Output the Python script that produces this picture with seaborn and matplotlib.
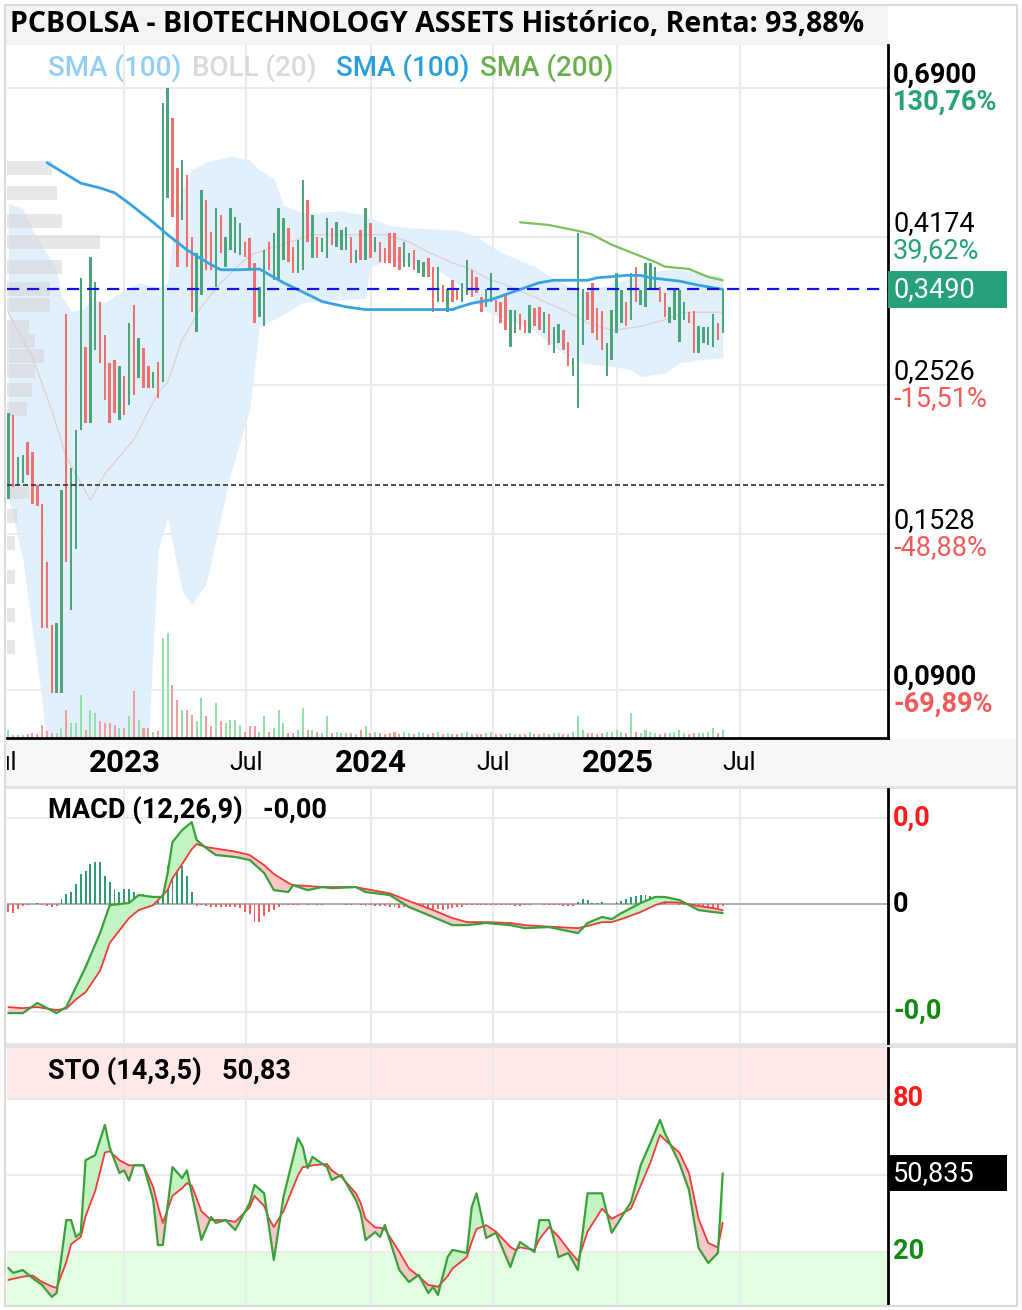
import numpy as np
import pandas as pd
import matplotlib
matplotlib.use("Agg")
import matplotlib.pyplot as plt
from matplotlib.patches import Rectangle
from matplotlib.ticker import NullLocator
import seaborn as sns

# ---------------- data ----------------
candle_open = [0.172, 0.228, 0.180, 0.181, 0.208, 0.201, 0.180, 0.169, 0.139, 0.112,
               0.089, 0.089, 0.321, 0.118, 0.145, 0.217, 0.287, 0.222, 0.284, 0.334,
               0.299, 0.272, 0.275, 0.224, 0.260, 0.236, 0.331, 0.259, 0.286, 0.269,
               0.250, 0.273, 0.255, 0.476, 0.623, 0.526, 0.442, 0.514, 0.417, 0.302,
               0.342, 0.472, 0.424, 0.352, 0.449, 0.377, 0.399, 0.395, 0.392, 0.410,
               0.416, 0.382, 0.318, 0.308, 0.410, 0.360, 0.360, 0.386, 0.430, 0.403,
               0.369, 0.373, 0.472, 0.388, 0.417, 0.396, 0.388, 0.430, 0.403, 0.399,
               0.399, 0.417, 0.382, 0.427, 0.386, 0.437, 0.396, 0.410, 0.402, 0.423,
               0.423, 0.403, 0.377, 0.377, 0.399, 0.369, 0.364, 0.388, 0.376, 0.334,
               0.354, 0.323, 0.360, 0.350, 0.335, 0.342, 0.373, 0.364, 0.340, 0.329,
               0.335, 0.337, 0.334, 0.342, 0.287, 0.301, 0.321, 0.315, 0.301, 0.328,
               0.329, 0.301, 0.321, 0.281, 0.291, 0.304, 0.292, 0.260, 0.234, 0.289,
               0.346, 0.357, 0.328, 0.324, 0.260, 0.275, 0.301, 0.312, 0.334, 0.315,
               0.376, 0.331, 0.329, 0.348, 0.350, 0.352, 0.345, 0.312, 0.315, 0.292,
               0.315, 0.323, 0.324, 0.281, 0.291, 0.289, 0.287, 0.312, 0.301]
candle_close = [0.230, 0.179, 0.198, 0.199, 0.186, 0.169, 0.168, 0.111, 0.111, 0.089,
                0.113, 0.177, 0.139, 0.191, 0.217, 0.363, 0.222, 0.390, 0.358, 0.272,
                0.240, 0.222, 0.230, 0.269, 0.228, 0.312, 0.244, 0.296, 0.250, 0.250,
                0.264, 0.242, 0.655, 0.690, 0.446, 0.376, 0.541, 0.377, 0.323, 0.395,
                0.489, 0.373, 0.373, 0.459, 0.395, 0.417, 0.459, 0.446, 0.437, 0.390,
                0.373, 0.312, 0.352, 0.399, 0.373, 0.423, 0.459, 0.445, 0.383, 0.369,
                0.413, 0.505, 0.410, 0.449, 0.388, 0.416, 0.445, 0.406, 0.438, 0.427,
                0.431, 0.382, 0.399, 0.386, 0.459, 0.388, 0.417, 0.383, 0.382, 0.382,
                0.377, 0.373, 0.410, 0.395, 0.373, 0.386, 0.383, 0.364, 0.323, 0.376,
                0.334, 0.350, 0.335, 0.337, 0.357, 0.386, 0.340, 0.345, 0.323, 0.350,
                0.369, 0.323, 0.312, 0.304, 0.326, 0.326, 0.304, 0.301, 0.331, 0.308,
                0.304, 0.323, 0.289, 0.307, 0.310, 0.284, 0.269, 0.277, 0.423, 0.350,
                0.315, 0.301, 0.294, 0.284, 0.291, 0.326, 0.369, 0.348, 0.308, 0.369,
                0.335, 0.348, 0.382, 0.382, 0.376, 0.334, 0.318, 0.329, 0.348, 0.348,
                0.335, 0.312, 0.281, 0.308, 0.307, 0.307, 0.321, 0.294, 0.349]
volume = [8, 3, 3, 3, 4, 5, 4, 13, 7, 5,
          5, 10, 28, 15, 15, 43, 8, 28, 25, 17,
          15, 15, 13, 10, 10, 22, 47, 18, 10, 10,
          6, 7, 100, 105, 53, 38, 28, 28, 23, 17,
          40, 22, 12, 35, 17, 15, 18, 18, 13, 6,
          12, 12, 6, 22, 6, 10, 28, 15, 5, 5,
          8, 30, 8, 8, 6, 5, 22, 5, 6, 5,
          5, 5, 4, 8, 12, 5, 6, 5, 4, 5,
          6, 4, 6, 5, 4, 6, 5, 4, 5, 6,
          4, 5, 4, 4, 5, 6, 4, 4, 4, 5,
          6, 4, 4, 4, 5, 4, 4, 4, 6, 4,
          4, 5, 4, 5, 5, 4, 4, 6, 22, 8,
          5, 5, 4, 5, 6, 6, 8, 6, 5, 25,
          6, 5, 8, 6, 5, 4, 5, 5, 6, 8,
          5, 4, 5, 5, 5, 6, 10, 5, 8]

# indicator samples: bar number -> value
sma100_idx = [8, 15, 19, 22, 25, 30, 33, 37, 41, 44, 48, 52, 57, 61, 65, 70, 74, 81, 92, 93,
              96, 100, 104, 110, 113, 120, 122, 128, 131, 133, 139, 143, 148]
sma100 = [0.536, 0.500, 0.492, 0.484, 0.467, 0.438, 0.420, 0.399, 0.383, 0.373,
          0.373, 0.374, 0.357, 0.346, 0.335, 0.329, 0.326, 0.326, 0.326, 0.328,
          0.333, 0.337, 0.345, 0.357, 0.360, 0.360, 0.363, 0.366, 0.366, 0.363,
          0.359, 0.354, 0.349]
sma200_idx = [106, 112, 119, 121, 125, 134, 136, 141, 145, 148]
sma200 = [0.438, 0.434, 0.424, 0.420, 0.406, 0.383, 0.377, 0.374, 0.364, 0.360]

boll_idx = [0, 3, 5, 7, 10, 11, 13, 15, 18, 20, 23, 27, 29, 31, 33, 34, 36, 38, 41, 46,
            50, 52, 55, 57, 61, 69, 74, 75, 79, 83, 89, 92, 95, 98, 102, 109, 114, 119, 125, 129,
            131, 136, 139, 143, 148]
boll_upper = [0.467, 0.459, 0.427, 0.405, 0.373, 0.342, 0.324, 0.326, 0.337, 0.334,
              0.345, 0.357, 0.354, 0.352, 0.357, 0.420, 0.489, 0.523, 0.537, 0.548,
              0.541, 0.523, 0.508, 0.464, 0.452, 0.455, 0.449, 0.445, 0.433, 0.430,
              0.428, 0.427, 0.423, 0.413, 0.396, 0.377, 0.359, 0.346, 0.355, 0.363,
              0.368, 0.373, 0.373, 0.369, 0.364]
boll_lower = [0.173, 0.140, 0.110, 0.087, 0.050, 0.050, 0.050, 0.050, 0.050, 0.050,
              0.050, 0.050, 0.075, 0.144, 0.162, 0.148, 0.126, 0.120, 0.129, 0.187,
              0.232, 0.308, 0.315, 0.321, 0.334, 0.337, 0.339, 0.377, 0.386, 0.382,
              0.373, 0.360, 0.348, 0.326, 0.318, 0.304, 0.284, 0.272, 0.269, 0.266,
              0.260, 0.263, 0.272, 0.275, 0.277]
boll_mid_idx = [0, 5, 9, 12, 17, 20, 26, 31, 33, 36, 40, 44, 50, 63, 78, 83, 86, 92, 96, 100,
                102, 109, 116, 120, 125, 131, 136, 140, 148]
boll_mid = [0.323, 0.277, 0.232, 0.198, 0.171, 0.187, 0.210, 0.246, 0.255, 0.294,
            0.329, 0.357, 0.392, 0.420, 0.420, 0.410, 0.399, 0.382, 0.373, 0.360,
            0.357, 0.340, 0.323, 0.312, 0.304, 0.308, 0.315, 0.323, 0.323]

profile_price = [0.526, 0.484, 0.440, 0.410, 0.377, 0.349, 0.331, 0.3075, 0.293, 0.279,
                 0.265, 0.248, 0.233, 0.176, 0.162, 0.148, 0.132, 0.116, 0.104]
profile_vol = [45, 50, 55, 93, 55, 43, 43, 22, 28, 37, 28, 25, 20, 22, 10, 8, 8, 8, 8]

macd_idx = [0, 3, 6, 10, 12, 14, 16, 19, 21, 25, 27, 30, 32, 33, 34, 36, 38, 39, 41, 43,
            47, 50, 53, 55, 58, 59, 62, 65, 67, 72, 74, 79, 83, 88, 92, 95, 99, 104, 107, 112,
            118, 120, 123, 125, 127, 131, 134, 136, 139, 143, 146, 148]
macd_line = [-0.0507, -0.0507, -0.0460, -0.0507, -0.0479, -0.0386, -0.0293, -0.0135, -0.0005, 0.0005,
             0.0042, 0.0033, 0.0033, 0.0144, 0.0288, 0.0344, 0.0381, 0.0298, 0.0260, 0.0228,
             0.0219, 0.0205, 0.0144, 0.0065, 0.0056, 0.0088, 0.0065, 0.0079, 0.0074, 0.0079,
             0.0056, 0.0042, -0.0014, -0.0060, -0.0098, -0.0098, -0.0088, -0.0098, -0.0112, -0.0107,
             -0.0135, -0.0088, -0.0060, -0.0070, -0.0042, 0.0005, 0.0033, 0.0033, 0.0019, -0.0028,
             -0.0037, -0.0042]
macd_signal = [-0.0479, -0.0484, -0.0479, -0.0493, -0.0486, -0.0443, -0.0410, -0.0310, -0.0181, -0.0065,
               -0.0028, -0.0005, 0.0042, 0.0065, 0.0120, 0.0186, 0.0255, 0.0279, 0.0265, 0.0258,
               0.0244, 0.0228, 0.0181, 0.0140, 0.0098, 0.0088, 0.0084, 0.0079, 0.0079, 0.0079,
               0.0070, 0.0050, 0.0014, -0.0028, -0.0065, -0.0084, -0.0084, -0.0088, -0.0098, -0.0105,
               -0.0112, -0.0102, -0.0084, -0.0084, -0.0070, -0.0037, -0.0005, 0.0009, 0.0007, -0.0009,
               -0.0019, -0.0028]
macd_hist = [-0.0037, -0.0042, -0.0023, -0.0009, -0.0005, 0.0, 0.0005, -0.0005, -0.0009, -0.0014,
             -0.0009, 0.0023, 0.0047, 0.0056, 0.0093, 0.0140, 0.0153, 0.0186, 0.0195, 0.0195,
             0.0130, 0.0102, 0.0070, 0.0056, 0.0070, 0.0070, 0.0056, 0.0047, 0.0047, 0.0028,
             0.0023, 0.0014, 0.0047, 0.0177, 0.0177, 0.0149, 0.0177, 0.0130, 0.0056, -0.0009,
             -0.0005, -0.0009, -0.0014, -0.0014, -0.0014, -0.0014, -0.0014, -0.0014, -0.0019, -0.0037,
             -0.0047, -0.0084, -0.0084, -0.0056, -0.0037, -0.0028, -0.0014, -0.0005, -0.0005, -0.0005,
             -0.0005, 0.0, -0.0005, 0.0, -0.0005, -0.0005, 0.0, 0.0, 0.0, 0.0,
             -0.0005, -0.0005, 0.0, -0.0005, -0.0009, -0.0005, -0.0009, -0.0009, -0.0009, -0.0014,
             -0.0014, -0.0019, -0.0014, -0.0019, -0.0019, -0.0023, -0.0023, -0.0028, -0.0023, -0.0023,
             -0.0028, -0.0023, -0.0019, -0.0014, -0.0014, -0.0005, -0.0005, -0.0005, -0.0005, -0.0005,
             -0.0005, -0.0005, -0.0005, -0.0005, -0.0005, -0.0009, -0.0009, -0.0005, -0.0005, 0.0,
             0.0, -0.0005, -0.0005, -0.0005, -0.0005, -0.0009, -0.0009, -0.0009, 0.0009, 0.0023,
             0.0019, 0.0005, 0.0005, 0.0009, 0.0, 0.0, 0.0009, 0.0014, 0.0023, 0.0033,
             0.0037, 0.0042, 0.0042, 0.0037, 0.0028, 0.0019, 0.0009, 0.0, 0.0, -0.0005,
             -0.0005, -0.0009, -0.0014, -0.0014, -0.0014, -0.0019, -0.0019, -0.0019, -0.0009]

sto_idx = [0, 1, 3, 5, 7, 9, 10, 12, 13, 14, 15, 16, 18, 20, 21, 23, 24, 25, 26, 28,
           30, 31, 32, 34, 36, 37, 38, 40, 42, 43, 45, 47, 50, 51, 53, 54, 55, 57, 60, 61,
           62, 63, 66, 67, 69, 72, 73, 74, 76, 77, 78, 81, 83, 85, 87, 88, 89, 91, 92, 95,
           96, 97, 99, 101, 104, 105, 106, 109, 110, 112, 114, 116, 118, 120, 123, 125, 129, 131, 133, 135,
           136, 139, 141, 143, 145, 147, 148]
sto_k = [13.7, 11.8, 12.9, 9.8, 7.0, 2.4, 3.9, 32.5, 32.5, 25.9,
         27.5, 56, 58, 69.8, 61, 51, 52, 48, 54, 54,
         40.4, 22.7, 22.7, 53.3, 49, 52, 43, 24.7, 33.7, 31.4,
         32.5, 28.6, 39.2, 46.3, 43, 29.8, 16.9, 41.6, 64.7, 61.2,
         52.9, 57.3, 53.3, 48.2, 50.2, 40.4, 35.3, 24.7, 27.8, 25.9,
         30.6, 12.9, 8.2, 11, 3.9, 6.3, 3.1, 18, 20.8, 19.6,
         37.6, 43, 25.5, 27.5, 14.1, 19.6, 23.9, 20, 32.5, 32.5,
         18, 19.6, 12.9, 43, 43, 27.5, 39.6, 54, 62.7, 71.8,
         66.7, 54.9, 44.3, 21.6, 15.7, 19.6, 50.835]
sto_d = [9.0, 9.5, 10.3, 10.8, 8.2, 6.5, 5.9, 16, 23, 24.5,
         25.9, 34, 44, 59, 59.5, 56, 55, 54, 54, 54,
         45.5, 38, 31.4, 42, 45, 47, 46, 36, 32.5, 32.5,
         32.5, 31.8, 37.5, 42, 38, 33, 29.8, 36, 50, 53.3,
         53.5, 54, 54.5, 52, 49.4, 43, 39.2, 33, 29.6, 29.5,
         29, 20, 13.5, 10.5, 7, 6.8, 6.3, 10.5, 13.5, 18,
         24, 29, 30.5, 28, 22, 20.8, 21.8, 20.8, 25, 29.8,
         26, 21, 16.5, 28, 37, 33, 37, 46, 55, 65.9,
         64, 59, 51, 33, 23.5, 21.8, 31.4]

price_levels = [0.69, 0.4174, 0.2526, 0.1528, 0.09]
price_labels = ["0,6900", "0,4174", "0,2526", "0,1528", "0,0900"]
pct_labels = ["130,76%", "39,62%", "-15,51%", "-48,88%", "-69,89%"]
last_price = 0.349
ref_price = 0.180
date_labels = [("2022-07-01", "Jul"), ("2023-01-01", "2023"), ("2023-07-01", "Jul"),
               ("2024-01-01", "2024"), ("2024-07-01", "Jul"), ("2025-01-01", "2025"),
               ("2025-07-01", "Jul")]

# ---------------- styling ----------------
sns.set_theme(style="white")
plt.rcParams["font.family"] = ["Roboto", "DejaVu Sans"]

GREEN = "#4aa57a"
RED = "#f07070"
PCT_GREEN = "#26a17b"
PCT_RED = "#f25a5a"
GRID = "#ebebeb"

W, H = 1022, 1310
fig = plt.figure(figsize=(W / 100, H / 100), dpi=100)
fig.patch.set_facecolor("white")


def box(l, t, r, b):
    return [l / W, 1 - b / H, (r - l) / W, (b - t) / H]


def rect(l, t, r, b, **kw):
    fig.add_artist(Rectangle((l / W, 1 - b / H), (r - l) / W, (b - t) / H,
                             transform=fig.transFigure, **kw))


rect(5, 5, 888, 45, fc="#f4f4f4", ec="none", zorder=-1)
rect(5, 739, 1017, 786, fc="#f7f7f7", ec="none", zorder=-1)
rect(5, 786, 1017, 789, fc="#e3e3e3", ec="none", zorder=-1)
rect(5, 1043, 1017, 1048, fc="#e3e3e3", ec="none", zorder=-1)

dates = pd.date_range("2022-07-13", "2025-06-06", periods=len(candle_open))
grid_dates = pd.to_datetime([d for d, _ in date_labels[1:]])
xlim = (pd.Timestamp("2022-07-11"), pd.Timestamp("2026-02-06"))
o = np.array(candle_open)
c = np.array(candle_close)
up = c >= o


def clean(a):
    a.set_xlabel("")
    a.set_ylabel("")
    a.tick_params(length=0, labelleft=False, labelbottom=False, labelright=False, labeltop=False)
    for s in a.spines.values():
        s.set_visible(False)


# ---------------- main price panel ----------------
ax = fig.add_axes(box(7, 45, 888, 738))
ax.set_yscale("log")
ax.fill_between(dates[boll_idx], boll_lower, boll_upper, color="#dfeffc", alpha=0.9, lw=0)
sns.lineplot(x=dates[boll_mid_idx], y=boll_mid, ax=ax, color="#ddd5d5", lw=1.1, legend=False)
ax.set_yticks(price_levels)
ax.yaxis.set_minor_locator(NullLocator())
ax.set_xticks(grid_dates)
ax.grid(True, color=GRID, lw=1.5)
clean(ax)

axp = ax.twiny()
axp.hlines(profile_price, 0, profile_vol, color="#d4d4d4", lw=10, alpha=0.55)
axp.set_xlim(0, max(profile_vol) * 9.47)
axp.axis("off")

axv = ax.twinx()
axv.bar(dates, volume, width=3.0, color=np.where(up, "#93e0aa", "#f59c9c"), lw=0)
axv.set_ylim(0, max(volume) * 6.6)
axv.axis("off")

axf = fig.add_axes(box(7, 45, 888, 738), sharex=ax, sharey=ax)
axf.patch.set_visible(False)
axf.bar(dates, c - o, bottom=o, width=3.6, color=np.where(up, GREEN, RED), lw=0)
sns.lineplot(x=dates[sma100_idx], y=sma100, ax=axf, color="#38a4de", lw=2, legend=False)
sns.lineplot(x=dates[sma200_idx], y=sma200, ax=axf, color="#7cbf5b", lw=1.6, legend=False)
axf.axhline(last_price, color="#1414e6", lw=1.6, ls=(0, (5.5, 3.5)))
axf.axhline(ref_price, color="#333333", lw=1.2, ls=(0, (3, 1.8)))
axf.grid(False)
clean(axf)
axf.spines["right"].set_visible(True)
axf.spines["bottom"].set_visible(True)
for s in ("right", "bottom"):
    axf.spines[s].set_color("black")
    axf.spines[s].set_linewidth(2)

legend_items = [("SMA (100)", "#93cff5", 0.0465), ("BOLL (20)", "#d9d9d9", 0.210),
                ("SMA (100)", "#2b9fdc", 0.3735), ("SMA (200)", "#6ab04c", 0.537)]
for txt, col, xpos in legend_items:
    axf.text(xpos, 0.967, txt, transform=axf.transAxes, color=col, fontsize=20,
             fontweight="medium", va="center", ha="left")

yt = axf.get_yaxis_transform()
for i, (p, ptxt, pct) in enumerate(zip(price_levels, price_labels, pct_labels)):
    bold = "bold" if i in (0, len(price_levels) - 1) else "normal"
    pcol = PCT_GREEN if p > 0.299 else PCT_RED
    axf.annotate(ptxt, xy=(1, p), xycoords=yt, xytext=(5, 13), textcoords="offset pixels",
                 va="center", ha="left", fontsize=19.5, fontweight=bold, color="black",
                 annotation_clip=False)
    axf.annotate(pct, xy=(1, p), xycoords=yt, xytext=(5, -14), textcoords="offset pixels",
                 va="center", ha="left", fontsize=19.5, fontweight=bold, color=pcol,
                 annotation_clip=False)

axf.add_patch(Rectangle((1.0, last_price * np.exp(-0.063)), 0.135,
                        last_price * (np.exp(0.063) - np.exp(-0.063)),
                        transform=yt, clip_on=False, fc=PCT_GREEN, ec="none", zorder=5))
axf.annotate("0,3490", xy=(1, last_price), xycoords=yt, xytext=(5, 0), textcoords="offset pixels",
             va="center", ha="left", fontsize=19.5, color="white", zorder=6,
             annotation_clip=False)

# ---------------- date strip ----------------
axd = fig.add_axes(box(7, 739, 888, 786), sharex=ax)
axd.patch.set_visible(False)
clean(axd)
for d, lab in date_labels:
    is_year = lab != "Jul"
    axd.text(pd.Timestamp(d), 0.48, lab, ha="center", va="center", clip_on=True,
             fontsize=22.5 if is_year else 18, fontweight="bold" if is_year else "normal",
             color="black")

# ---------------- MACD panel ----------------
axm = fig.add_axes(box(7, 789, 888, 1043), sharex=ax)
axm.bar(dates, macd_hist, width=2.8, color=np.where(np.array(macd_hist) >= 0, "#2f9c6c", "#f25f5f"),
        lw=0)
md = dates[macd_idx]
ml = np.array(macd_line)
ms = np.array(macd_signal)
axm.fill_between(md, ml, ms, where=ml >= ms, interpolate=True, color="#c3f3c3", lw=0)
axm.fill_between(md, ml, ms, where=ml < ms, interpolate=True, color="#fbc8c8", lw=0)
sns.lineplot(x=md, y=macd_signal, ax=axm, color="#f23a3a", lw=1.3, legend=False)
sns.lineplot(x=md, y=macd_line, ax=axm, color="#3aa03a", lw=1.6, legend=False)
axm.axhline(0, color="#b0b0b0", lw=1.5, zorder=0.8)
axm.set_ylim(-0.0646, 0.0535)
axm.set_yticks([0.04, -0.05])
axm.set_xticks(grid_dates)
axm.grid(True, color=GRID, lw=1.5)
clean(axm)
axm.spines["right"].set_visible(True)
axm.spines["right"].set_color("black")
axm.spines["right"].set_linewidth(2)
axm.text(0.0465, 0.917, "MACD (12,26,9)   -0,00", transform=axm.transAxes, fontsize=19.5,
         fontweight="bold", va="center", ha="left", color="black")
ymt = axm.get_yaxis_transform()
for val, lab, col in [(0.04, "0,0", "#ff1a1a"), (0, "0", "black"), (-0.05, "-0,0", "#138a13")]:
    axm.annotate(lab, xy=(1, val), xycoords=ymt, xytext=(5, 0), textcoords="offset pixels",
                 va="center", ha="left", fontsize=19.5, fontweight="bold", color=col,
                 annotation_clip=False)

# ---------------- STO panel ----------------
axs = fig.add_axes(box(7, 1048, 888, 1305), sharex=ax)
axs.axhspan(80, 100, color="#ffe8e8", lw=0, zorder=0)
axs.axhspan(-0.8, 20, color="#e2fde2", lw=0, zorder=0)
sd = dates[sto_idx]
sk = np.array(sto_k)
sdd = np.array(sto_d)
axs.fill_between(sd, sk, sdd, where=sk >= sdd, interpolate=True, color="#c3f3c3", lw=0)
axs.fill_between(sd, sk, sdd, where=sk < sdd, interpolate=True, color="#f7c9c9", lw=0)
sns.lineplot(x=sd, y=sto_d, ax=axs, color="#f23a3a", lw=1.3, legend=False)
sns.lineplot(x=sd, y=sto_k, ax=axs, color="#3aa03a", lw=1.6, legend=False)
axs.set_ylim(-0.8, 100)
axs.set_yticks([20, 50, 80])
axs.set_xticks(grid_dates)
axs.grid(True, color=GRID, lw=1.5)
clean(axs)
axs.spines["right"].set_visible(True)
axs.spines["right"].set_color("black")
axs.spines["right"].set_linewidth(2)
axs.text(0.0465, 0.91, "STO (14,3,5)   50,83", transform=axs.transAxes, fontsize=19.5,
         fontweight="bold", va="center", ha="left", color="black")
yst = axs.get_yaxis_transform()
for val, lab, col in [(80, "80", "#ff1a1a"), (20, "20", "#138a13")]:
    axs.annotate(lab, xy=(1, val), xycoords=yst, xytext=(5, 0), textcoords="offset pixels",
                 va="center", ha="left", fontsize=19.5, fontweight="bold", color=col,
                 annotation_clip=False)
axs.add_patch(Rectangle((1.0, sto_k[-1] - 7.05), 0.135, 14.1, transform=yst, clip_on=False,
                        fc="black", ec="none", zorder=5))
axs.annotate("50,835", xy=(1, sto_k[-1]), xycoords=yst, xytext=(5, 0), textcoords="offset pixels",
             va="center", ha="left", fontsize=19.5, color="white", zorder=6,
             annotation_clip=False)

ax.set_xlim(*xlim)
ax.set_ylim(0.0765, 0.798)

# ---------------- title and frame ----------------
fig.text(10 / W, 1 - 25 / H, "PCBOLSA - BIOTECHNOLOGY ASSETS Histórico, Renta: 93,88%",
         family=["Open Sans", "DejaVu Sans"], fontweight="bold", fontsize=20.5,
         va="center", ha="left", color="black")
rect(5, 5, 1017, 1306, fc="none", ec="#dadada", lw=1.5, zorder=10)

fig.savefig("out.png", dpi=100, facecolor="white")
